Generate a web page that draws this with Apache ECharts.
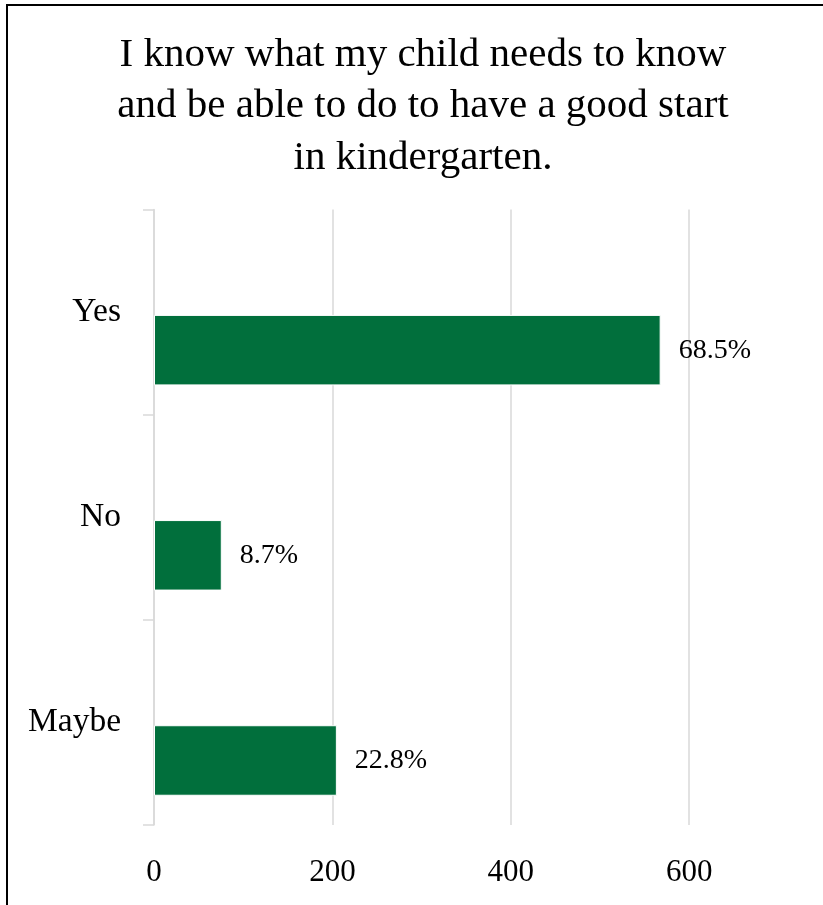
<!DOCTYPE html>
<html>
<head>
<meta charset="utf-8">
<script src="https://cdn.jsdelivr.net/npm/echarts@6/dist/echarts.min.js"></script>
<style>
html,body{margin:0;padding:0;background:#fff;}
#chart{width:823px;height:905px;}
</style>
</head>
<body>
<div id="chart"></div>
<script>
var titleText = 'I know what my child needs to know\nand be able to do to have a good start\nin kindergarten.';
var categories = ['Yes', 'No', 'Maybe'];
var counts = [568, 76, 205];
var pctLabels = ['68.5%', '8.7%', '22.8%'];
var xTicks = [0, 200, 400, 600, 800];

var serif = '"Liberation Serif", "Times New Roman", serif';
var chart = echarts.init(document.getElementById('chart'));
chart.setOption({
  animation: false,
  backgroundColor: '#fff',
  graphic: [{
    type: 'rect',
    shape: {x: 7, y: 5, width: 1000, height: 1000},
    style: {fill: 'none', stroke: '#000', lineWidth: 2},
    silent: true
  }],
  title: {
    text: titleText,
    left: 418,
    textAlign: 'center',
    top: 24,
    textStyle: {fontFamily: serif, fontSize: 41, fontWeight: 'normal', color: '#000', lineHeight: 51.5}
  },
  grid: {left: 154, top: 209.5, width: 713.6, height: 615.5, outerBoundsMode: 'none', containLabel: false},
  xAxis: {
    type: 'value',
    min: 0, max: 800, interval: 200,
    axisLine: {show: false},
    axisTick: {show: false},
    splitLine: {show: true, lineStyle: {color: '#d9d9d9', width: 1.5}},
    axisLabel: {
      margin: 32,
      fontFamily: serif, fontSize: 31, color: '#000',
      formatter: function (v) { return xTicks.indexOf(v) >= 0 ? String(v) : ''; }
    }
  },
  yAxis: {
    type: 'category',
    data: categories,
    inverse: true,
    axisLine: {show: true, lineStyle: {color: '#d9d9d9', width: 1.5}},
    axisTick: {show: true, length: 11, lineStyle: {color: '#d9d9d9', width: 1.5}},
    splitLine: {show: false},
    axisLabel: {margin: 33, fontFamily: serif, fontSize: 33.5, color: '#000', verticalAlign: 'middle'}
  },
  series: [{
    type: 'bar',
    name: 'blank',
    data: categories.map(function () { return '-'; }),
    barWidth: 70.5,
    barGap: '8%'
  }, {
    type: 'bar',
    name: 'Count',
    data: counts,
    barWidth: 70.5,
    barGap: '8%',
    itemStyle: {color: '#016F3C', borderColor: '#fff', borderWidth: 1},
    label: {
      show: true,
      position: 'right',
      distance: 18,
      fontFamily: serif, fontSize: 28, color: '#000',
      formatter: function (p) { return pctLabels[p.dataIndex]; }
    }
  }]
});
</script>
</body>
</html>
